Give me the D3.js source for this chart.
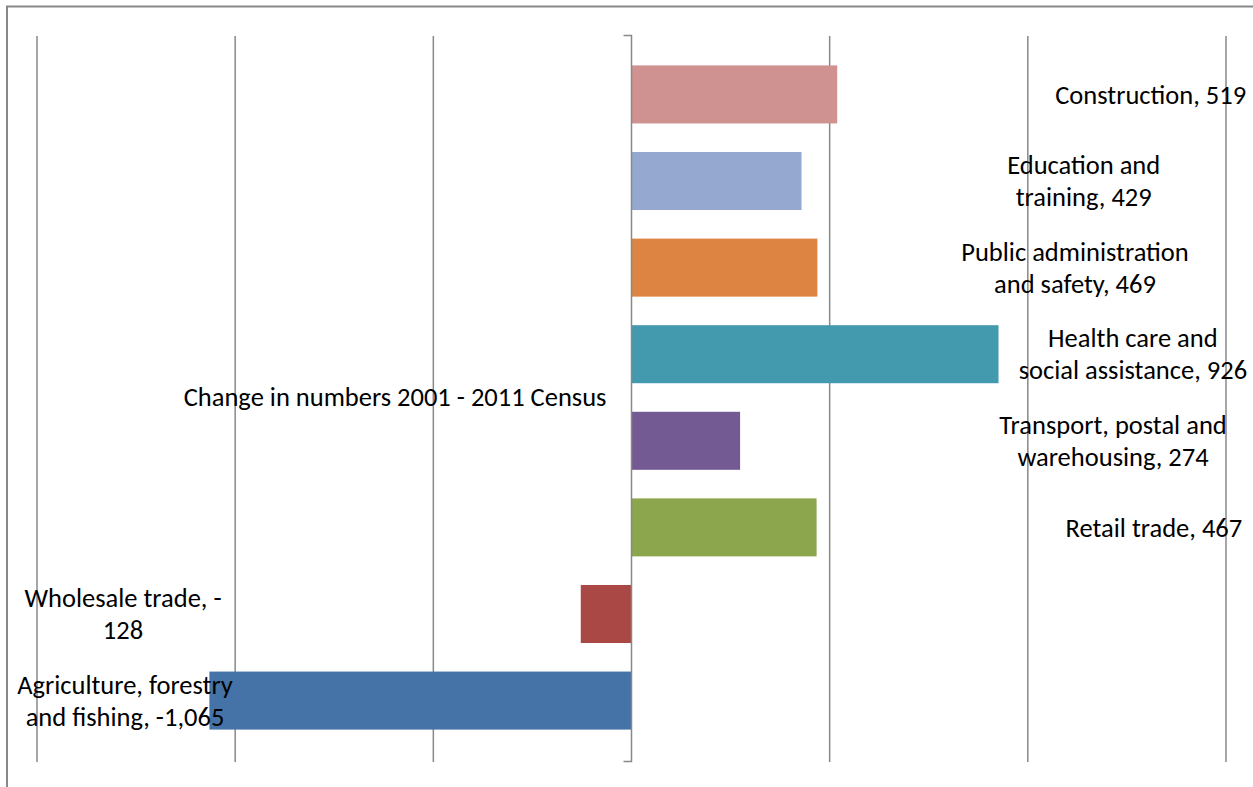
<!DOCTYPE html>
<html>
<head>
<meta charset="utf-8">
<script src="https://cdn.jsdelivr.net/npm/d3@7"></script>
<style>
  body { margin: 0; background: #fff; }
  svg { display: block; }
  .lbl { font-family: Carlito, Lato, sans-serif; font-size: 26.5px; fill: #000; }
</style>
</head>
<body>
<div class="chart"></div>
<script>
// industries, top bar first
const industries = [
  'Construction',
  'Education and training',
  'Public administration and safety',
  'Health care and social assistance',
  'Transport, postal and warehousing',
  'Retail trade',
  'Wholesale trade',
  'Agriculture, forestry and fishing'
]
const change = [519, 429, 469, 926, 274, 467, -128, -1065]
const labelLines = [
  ['Construction, 519'],
  ['Education and', 'training, 429'],
  ['Public administration', 'and safety, 469'],
  ['Health care and', 'social assistance, 926'],
  ['Transport, postal and', 'warehousing, 274'],
  ['Retail trade, 467'],
  ['Wholesale trade, -', '128'],
  ['Agriculture, forestry', 'and fishing, -1,065']
]
// where each label was dragged to, in value units
const labelAt = [1310, 1141, 1119, 1265, 1215, 1318, -1283, -1278]
const colors = ['#d09191', '#95a9d0', '#dd8442', '#4399ae', '#735a92', '#8ba64d', '#aa4845', '#4573a7']
const xTicks = [-1500, -1000, -500, 0, 500, 1000, 1500]
const categoryName = 'Change in numbers 2001 - 2011 Census'

document.addEventListener('DOMContentLoaded', start)

function start () {
  const width = 1253
  const height = 787
  const svg = d3.select('.chart').append('svg')
    .attr('width', width)
    .attr('height', height)

  // chart area frame (only top and left edges show)
  svg.append('path')
    .attr('d', 'M7,787 V6.5 H1253')
    .attr('fill', 'none')
    .attr('stroke', '#888')
    .attr('stroke-width', 2)

  const x = d3.scaleLinear().domain([-1500, 1500]).range([37, 1226])
  const y = d3.scaleBand().domain(industries).range([34.5, 760.5])
    .paddingInner(0.33).paddingOuter(0.357)

  // gridlines
  svg.append('g')
    .selectAll('line')
    .data(xTicks.filter(d => d !== 0))
    .enter().append('line')
    .attr('x1', d => x(d)).attr('x2', d => x(d))
    .attr('y1', 36).attr('y2', 762)
    .attr('stroke', '#888')
    .attr('stroke-width', 1.5)

  // bars
  svg.append('g')
    .selectAll('rect')
    .data(industries)
    .enter().append('rect')
    .attr('x', (d, i) => x(Math.min(0, change[i])))
    .attr('width', (d, i) => Math.abs(x(change[i]) - x(0)))
    .attr('y', d => y(d))
    .attr('height', y.bandwidth())
    .attr('fill', (d, i) => colors[i])

  // category axis at zero
  const ax = x(0)
  svg.append('path')
    .attr('d', `M${ax - 8},35.5 H${ax} V761.5 H${ax - 8}`)
    .attr('fill', 'none')
    .attr('stroke', '#888')
    .attr('stroke-width', 1.5)

  svg.append('text')
    .attr('class', 'lbl')
    .attr('x', ax - 25)
    .attr('y', 397)
    .attr('dy', '0.35em')
    .attr('text-anchor', 'end')
    .text(categoryName)

  // data labels
  const lineH = 32
  const labels = svg.append('g')
    .selectAll('text')
    .data(industries)
    .enter().append('text')
    .attr('class', 'lbl')
    .attr('text-anchor', 'middle')
    .attr('x', (d, i) => x(labelAt[i]))
    .attr('y', (d, i) => y(d) + y.bandwidth() / 2 - (labelLines[i].length - 1) * lineH / 2)

  labels.selectAll('tspan')
    .data((d, i) => labelLines[i].map(t => ({ t, i })))
    .enter().append('tspan')
    .attr('x', d => x(labelAt[d.i]))
    .attr('dy', (d, j) => j === 0 ? '0.35em' : lineH)
    .text(d => d.t)
}
</script>
</body>
</html>
